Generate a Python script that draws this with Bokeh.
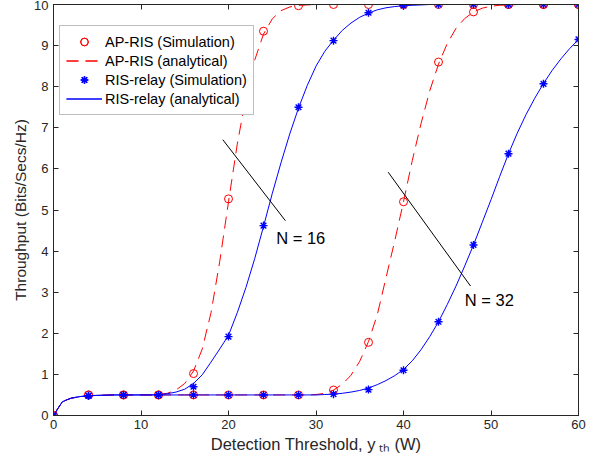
from bokeh.plotting import figure
from bokeh.models import Range1d, LinearAxis, FixedTicker, Legend, LegendItem, Label
from bokeh.embed import file_html
from bokeh.resources import INLINE

# ---------------- data ----------------
sim_x = [0, 4, 8, 12, 16, 20, 24, 28, 32, 36, 40, 44, 48, 52, 56, 60]
ap16_sim = [0, 0.5, 0.5, 0.5, 1.02, 5.27, 9.35, 9.97, 10, 10, 10, 10, 10, 10, 10, 10]
relay16_sim = [0, 0.48, 0.5, 0.5, 0.7, 1.92, 4.62, 7.5, 9.12, 9.8, 9.97, 10, 10, 10, 10, 10]
ap32_sim = [0, 0.5, 0.5, 0.5, 0.5, 0.5, 0.5, 0.5, 0.62, 1.78, 5.2, 8.6, 9.82, 10, 10, 10]
relay32_sim = [0, 0.48, 0.5, 0.5, 0.5, 0.5, 0.5, 0.5, 0.52, 0.63, 1.1, 2.28, 4.15, 6.37, 8.07, 9.15]

ana_x = [0, 0.5, 1, 1.5, 2, 3, 4, 5, 6, 7, 8, 9, 10, 11, 12, 13, 14, 15, 16, 17, 18, 19, 20,
         21, 22, 23, 24, 25, 26, 27, 28, 29, 30, 31, 32, 33, 34, 35, 36, 37, 38, 39, 40,
         41, 42, 43, 44, 45, 46, 47, 48, 49, 50, 51, 52, 53, 54, 55, 56, 57, 58, 59, 60]
ap16_ana = [0, 0.17, 0.33, 0.38, 0.42, 0.46, 0.48, 0.49, 0.495, 0.5, 0.5, 0.5, 0.5, 0.5,
            0.51, 0.54, 0.62, 0.78, 1.08, 1.62, 2.5, 3.75, 5.2, 6.6, 7.75, 8.65, 9.28, 9.65,
            9.85, 9.94, 9.98, 9.99, 10, 10, 10, 10, 10, 10, 10, 10, 10, 10, 10, 10, 10, 10,
            10, 10, 10, 10, 10, 10, 10, 10, 10, 10, 10, 10, 10, 10, 10, 10, 10]
relay16_ana = [0, 0.17, 0.33, 0.38, 0.42, 0.46, 0.48, 0.49, 0.495, 0.5, 0.5, 0.5, 0.5, 0.5,
               0.51, 0.53, 0.57, 0.64, 0.78, 0.99, 1.3, 1.62, 1.95, 2.5, 3.12, 3.82, 4.6,
               5.4, 6.15, 6.85, 7.48, 8.03, 8.5, 8.86, 9.13, 9.37, 9.55, 9.69, 9.79, 9.87,
               9.92, 9.95, 9.97, 9.98, 9.99, 10, 10, 10, 10, 10, 10, 10, 10, 10, 10, 10, 10,
               10, 10, 10, 10, 10, 10]
ap32_ana = [0, 0.17, 0.33, 0.38, 0.42, 0.46, 0.48, 0.49, 0.495, 0.5, 0.5, 0.5, 0.5, 0.5,
            0.5, 0.5, 0.5, 0.5, 0.5, 0.5, 0.5, 0.5, 0.5, 0.5, 0.5, 0.5, 0.5, 0.5, 0.5, 0.5,
            0.5, 0.5, 0.51, 0.54, 0.62, 0.76, 0.98, 1.32, 1.8, 2.45, 3.35, 4.25, 5.2, 6.2,
            7.1, 7.9, 8.55, 9.05, 9.42, 9.66, 9.82, 9.91, 9.96, 9.98, 9.99, 10, 10, 10, 10,
            10, 10, 10, 10]
relay32_ana = [0, 0.17, 0.33, 0.38, 0.42, 0.46, 0.48, 0.49, 0.495, 0.5, 0.5, 0.5, 0.5, 0.5,
               0.5, 0.5, 0.5, 0.5, 0.5, 0.5, 0.5, 0.5, 0.5, 0.5, 0.5, 0.5, 0.5, 0.5, 0.5,
               0.5, 0.5, 0.5, 0.5, 0.51, 0.52, 0.54, 0.57, 0.61, 0.67, 0.75, 0.85, 0.97,
               1.12, 1.33, 1.6, 1.92, 2.28, 2.7, 3.15, 3.64, 4.15, 4.7, 5.25, 5.82, 6.37,
               6.87, 7.32, 7.72, 8.08, 8.4, 8.68, 8.93, 9.15]

x_ticks = [0, 10, 20, 30, 40, 50, 60]
y_ticks = [0, 1, 2, 3, 4, 5, 6, 7, 8, 9, 10]

legend_labels = ["AP-RIS (Simulation)", "AP-RIS (analytical)",
                 "RIS-relay (Simulation)", "RIS-relay (analytical)"]
x_label = "Detection Threshold, y\u2009\u209c\u2095 (W)"
y_label = "Throughput (Bits/Secs/Hz)"

# annotation pointer lines and texts
note_labels = ["N = 16", "N = 32"]
note_x0 = [19.35, 38.25]
note_y0 = [6.71, 5.92]
note_x1 = [26.5, 47.66]
note_y1 = [4.74, 3.15]
note_tx = [25.45, 47.0]
note_ty = [4.31, 2.80]

# ---------------- figure ----------------
FONT = "Liberation Sans"
AX = "#262626"

p = figure(width=587, height=462, output_backend="svg", toolbar_location=None,
           x_range=Range1d(0, 60), y_range=Range1d(0, 10),
           min_border_left=53, min_border_right=9, min_border_top=4, min_border_bottom=47)
p.grid.visible = False
p.outline_line_color = AX
p.background_fill_color = "white"


def style_axis(ax, ticks):
    ax.ticker = FixedTicker(ticks=ticks)
    ax.axis_line_color = AX
    ax.major_tick_line_color = AX
    ax.major_tick_in = 5
    ax.major_tick_out = 0
    ax.minor_tick_line_color = None
    ax.major_label_text_font = FONT
    ax.major_label_text_font_size = "13px"
    ax.major_label_text_color = AX


style_axis(p.xaxis[0], x_ticks)
style_axis(p.yaxis[0], y_ticks)
p.xaxis.major_label_standoff = 4
p.yaxis.major_label_standoff = 5
for ax, lab, fs in ((p.xaxis[0], x_label, "16.5px"), (p.yaxis[0], y_label, "15.5px")):
    ax.axis_label = lab
    ax.axis_label_text_font = FONT
    ax.axis_label_text_font_size = fs
    ax.axis_label_text_font_style = "normal"
    ax.axis_label_text_color = AX
p.yaxis.axis_label_standoff = 2
p.xaxis.axis_label_standoff = 3

top_ax = LinearAxis()
right_ax = LinearAxis()
for ax, t in ((top_ax, x_ticks), (right_ax, y_ticks)):
    style_axis(ax, t)
    ax.major_label_text_font_size = "0px"
    ax.major_label_standoff = 0
p.add_layout(top_ax, "above")
p.add_layout(right_ax, "right")

# ---------------- series ----------------
RED = "#ff0000"
BLUE = "#0000ff"

r_ap16_s = p.scatter(sim_x, ap16_sim, marker="circle", size=8, line_color=RED,
                     fill_color=None, line_width=1)
r_ap32_s = p.scatter(sim_x, ap32_sim, marker="circle", size=8, line_color=RED,
                     fill_color=None, line_width=1)
r_ap16_a = p.line(ana_x, ap16_ana, line_color=RED, line_width=1, line_dash="12 7")
r_ap32_a = p.line(ana_x, ap32_ana, line_color=RED, line_width=1, line_dash="12 7")
r_re16_s = p.scatter(sim_x, relay16_sim, marker="asterisk", size=8, line_color=BLUE,
                     line_width=1.4)
r_re32_s = p.scatter(sim_x, relay32_sim, marker="asterisk", size=8, line_color=BLUE,
                     line_width=1.4)
r_re16_a = p.line(ana_x, relay16_ana, line_color=BLUE, line_width=1)
r_re32_a = p.line(ana_x, relay32_ana, line_color=BLUE, line_width=1)

# annotations
p.segment(x0=note_x0, y0=note_y0, x1=note_x1, y1=note_y1, line_color="black", line_width=1)
for lab, tx, ty in zip(note_labels, note_tx, note_ty):
    p.add_layout(Label(x=tx, y=ty, text=lab, text_font=FONT, text_font_size="16.5px",
                       text_color="black", text_align="left", text_baseline="middle"))

# legend
legend = Legend(items=[
    LegendItem(label=legend_labels[0], renderers=[r_ap16_s, r_ap32_s]),
    LegendItem(label=legend_labels[1], renderers=[r_ap16_a, r_ap32_a]),
    LegendItem(label=legend_labels[2], renderers=[r_re16_s, r_re32_s]),
    LegendItem(label=legend_labels[3], renderers=[r_re16_a, r_re32_a]),
], location=(6, 300))
legend.label_text_font = FONT
legend.label_text_font_size = "14.5px"
legend.label_text_color = "black"
legend.border_line_color = "#808080"
legend.border_line_width = 1
legend.background_fill_color = "white"
legend.background_fill_alpha = 1
legend.padding = 6
legend.spacing = 0
legend.glyph_width = 36
legend.glyph_height = 19
legend.label_height = 19
legend.label_standoff = 3
legend.margin = 0
p.add_layout(legend)

open("out.html", "w").write(file_html(p, INLINE))
